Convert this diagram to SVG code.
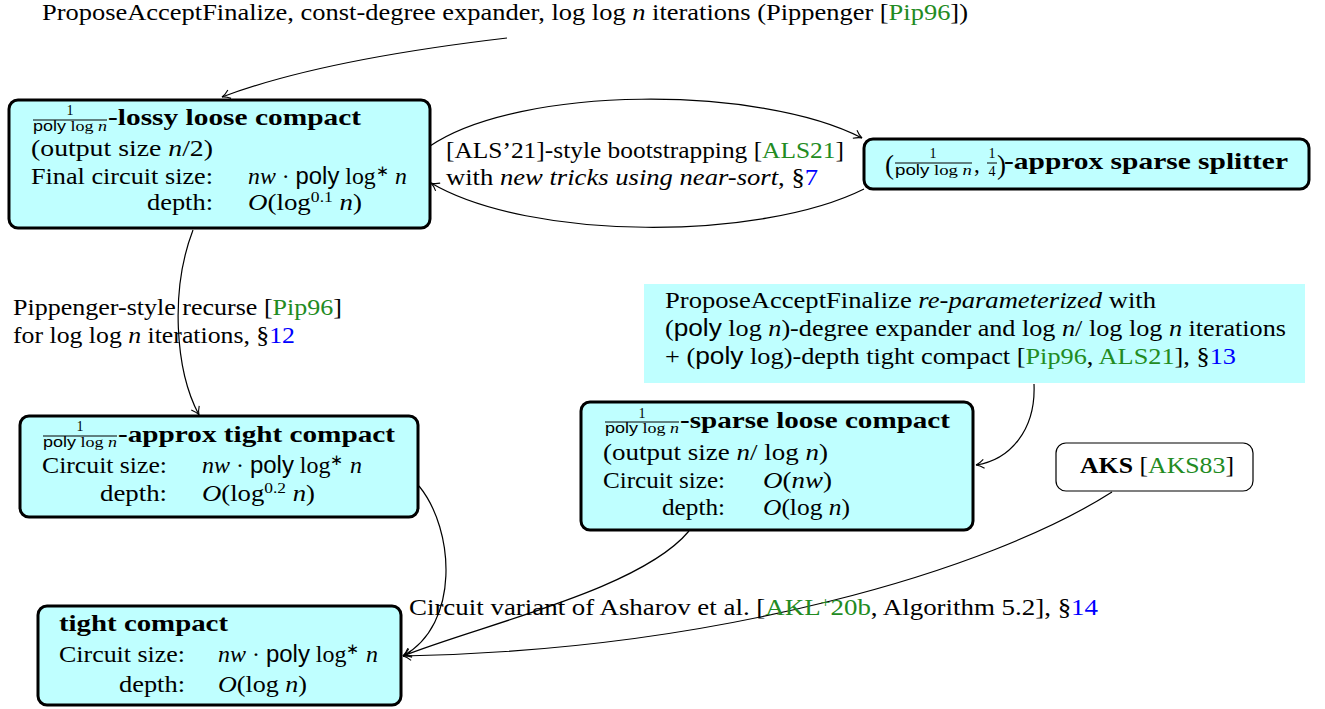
<svg xmlns="http://www.w3.org/2000/svg" width="1325" height="709" viewBox="0 0 1325 709">
<style>
text{font-family:"Liberation Serif","Times New Roman",serif;font-size:23px;fill:#000}
.b{font-weight:bold}
.i{font-style:italic}
.s{font-family:"Liberation Sans",Arial,sans-serif}
.g{fill:#228b22}
.u{fill:#0000ff}
.fr{font-size:14px}
.sup{font-size:15px}
.par{font-size:27px}
.node{fill:#bfffff;stroke:#000;stroke-width:3}
.plain{fill:#fff;stroke:#000;stroke-width:1.2}
.box{fill:#bfffff;stroke:none}
.edge{fill:none;stroke:#000;stroke-width:1.2}
.bar{stroke:#000;stroke-width:1}
</style>
<defs>
<marker id="arr" markerWidth="12" markerHeight="12" refX="0" refY="0" viewBox="-9 -6 12 12" orient="auto" markerUnits="userSpaceOnUse">
<path d="M-8,-4.5 C-5,-2 -2,-0.5 0,0 C-2,0.5 -5,2 -8,4.5" fill="none" stroke="#000" stroke-width="1.1"/>
</marker>
</defs>

<g id="edges">
<path class="edge" d="M507,38 Q320,60 222,97" marker-end="url(#arr)"/>
<path class="edge" d="M430,146 C520,85 760,85 862,138" marker-end="url(#arr)"/>
<path class="edge" d="M864,189 C760,241 530,241 431,183" marker-end="url(#arr)"/>
<path class="edge" d="M193,230 C170,290 175,370 199,415" marker-end="url(#arr)"/>
<path class="edge" d="M1034,384 C1036,430 1010,460 976,465" marker-end="url(#arr)"/>
<path class="edge" d="M419,486 C455,530 460,625 403,656" marker-end="url(#arr)"/>
<path class="edge" d="M689,531 C640,590 480,625 403,656" marker-end="url(#arr)"/>
<path class="edge" d="M1112,492 C990,570 720,650 403,656" marker-end="url(#arr)"/>
</g>

<g id="labels">
<text x="42" y="20" textLength="926" lengthAdjust="spacingAndGlyphs">ProposeAcceptFinalize, const-degree expander, log log <tspan class="i">n</tspan> iterations (Pippenger [<tspan class="g">Pip96</tspan>])</text>
<text x="446" y="158" textLength="398" lengthAdjust="spacingAndGlyphs">[ALS’21]-style bootstrapping [<tspan class="g">ALS21</tspan>]</text>
<text x="446" y="185" textLength="372" lengthAdjust="spacingAndGlyphs">with <tspan class="i">new tricks using near-sort</tspan>, §<tspan class="u">7</tspan></text>
<text x="13" y="315" textLength="329" lengthAdjust="spacingAndGlyphs">Pippenger-style recurse [<tspan class="g">Pip96</tspan>]</text>
<text x="13" y="343" textLength="282" lengthAdjust="spacingAndGlyphs">for log log <tspan class="i">n</tspan> iterations, §<tspan class="u">12</tspan></text>
<text x="409" y="615" textLength="689" lengthAdjust="spacingAndGlyphs">Circuit variant of Asharov et al. [<tspan class="g">AKL</tspan><tspan class="g sup" dy="-8">+</tspan><tspan class="g" dy="8">20b</tspan>, Algorithm 5.2], §<tspan class="u">14</tspan></text>
</g>

<g id="nodeA">
<rect class="node" x="9" y="100" width="421" height="128" rx="9"/>
<text class="fr" x="70" y="115" text-anchor="middle">1</text>
<line class="bar" x1="33" y1="120" x2="107" y2="120"/>
<text class="fr" x="33" y="131" textLength="74" lengthAdjust="spacingAndGlyphs"><tspan class="s">poly</tspan> log <tspan class="i">n</tspan></text>
<text class="b" x="108" y="125" textLength="253" lengthAdjust="spacingAndGlyphs">-lossy loose compact</text>
<text x="31" y="156" textLength="182" lengthAdjust="spacingAndGlyphs">(output size <tspan class="i">n</tspan>/2)</text>
<text x="31" y="184" textLength="182" lengthAdjust="spacingAndGlyphs">Final circuit size:</text>
<text x="248" y="184" textLength="159" lengthAdjust="spacingAndGlyphs"><tspan class="i">nw</tspan> · <tspan class="s">poly</tspan> log<tspan class="sup" dy="-8">∗</tspan><tspan dy="8"> </tspan><tspan class="i">n</tspan></text>
<text x="147" y="210" textLength="66" lengthAdjust="spacingAndGlyphs">depth:</text>
<text x="248" y="210" textLength="114" lengthAdjust="spacingAndGlyphs"><tspan class="i">O</tspan>(log<tspan class="sup" dy="-8">0.1</tspan><tspan dy="8"> </tspan><tspan class="i">n</tspan>)</text>
</g>

<g id="nodeB">
<rect class="node" x="864" y="139" width="445" height="50" rx="9"/>
<text class="par" x="885" y="174">(</text>
<text class="fr" x="933" y="158" text-anchor="middle">1</text>
<line class="bar" x1="895" y1="163" x2="972" y2="163"/>
<text class="fr" x="895" y="175" textLength="77" lengthAdjust="spacingAndGlyphs"><tspan class="s">poly</tspan> log <tspan class="i">n</tspan></text>
<text x="974" y="172">,</text>
<text class="fr" x="992" y="158" text-anchor="middle">1</text>
<line class="bar" x1="987" y1="163" x2="997" y2="163"/>
<text class="fr" x="992" y="176" text-anchor="middle">4</text>
<text class="par" x="997" y="174">)</text>
<text class="b" x="1004" y="169" textLength="284" lengthAdjust="spacingAndGlyphs">-approx sparse splitter</text>
</g>

<g id="nodeC">
<rect class="node" x="20" y="416" width="398" height="101" rx="9"/>
<text class="fr" x="80" y="431" text-anchor="middle">1</text>
<line class="bar" x1="43" y1="436" x2="117" y2="436"/>
<text class="fr" x="43" y="447" textLength="74" lengthAdjust="spacingAndGlyphs"><tspan class="s">poly</tspan> log <tspan class="i">n</tspan></text>
<text class="b" x="118" y="442" textLength="277" lengthAdjust="spacingAndGlyphs">-approx tight compact</text>
<text x="42" y="473" textLength="125" lengthAdjust="spacingAndGlyphs">Circuit size:</text>
<text x="202" y="473" textLength="160" lengthAdjust="spacingAndGlyphs"><tspan class="i">nw</tspan> · <tspan class="s">poly</tspan> log<tspan class="sup" dy="-8">∗</tspan><tspan dy="8"> </tspan><tspan class="i">n</tspan></text>
<text x="100" y="501" textLength="67" lengthAdjust="spacingAndGlyphs">depth:</text>
<text x="202" y="501" textLength="113" lengthAdjust="spacingAndGlyphs"><tspan class="i">O</tspan>(log<tspan class="sup" dy="-8">0.2</tspan><tspan dy="8"> </tspan><tspan class="i">n</tspan>)</text>
</g>

<g id="pafBox">
<rect class="box" x="644" y="284" width="661" height="99"/>
<text x="665" y="308" textLength="491" lengthAdjust="spacingAndGlyphs">ProposeAcceptFinalize <tspan class="i">re-parameterized</tspan> with</text>
<text x="665" y="336" textLength="621" lengthAdjust="spacingAndGlyphs">(<tspan class="s">poly</tspan> log <tspan class="i">n</tspan>)-degree expander and log <tspan class="i">n</tspan>/ log log <tspan class="i">n</tspan> iterations</text>
<text x="665" y="364" textLength="571" lengthAdjust="spacingAndGlyphs">+ (<tspan class="s">poly</tspan> log)-depth tight compact [<tspan class="g">Pip96</tspan>, <tspan class="g">ALS21</tspan>], §<tspan class="u">13</tspan></text>
</g>

<g id="nodeD">
<rect class="node" x="581" y="402" width="392" height="128" rx="9"/>
<text class="fr" x="642" y="418" text-anchor="middle">1</text>
<line class="bar" x1="605" y1="422" x2="679" y2="422"/>
<text class="fr" x="605" y="433" textLength="74" lengthAdjust="spacingAndGlyphs"><tspan class="s">poly</tspan> log <tspan class="i">n</tspan></text>
<text class="b" x="680" y="428" textLength="270" lengthAdjust="spacingAndGlyphs">-sparse loose compact</text>
<text x="603" y="460" textLength="225" lengthAdjust="spacingAndGlyphs">(output size <tspan class="i">n</tspan>/ log <tspan class="i">n</tspan>)</text>
<text x="603" y="488" textLength="122" lengthAdjust="spacingAndGlyphs">Circuit size:</text>
<text x="763" y="488" textLength="69" lengthAdjust="spacingAndGlyphs"><tspan class="i">O</tspan>(<tspan class="i">nw</tspan>)</text>
<text x="662" y="515" textLength="63" lengthAdjust="spacingAndGlyphs">depth:</text>
<text x="763" y="515" textLength="87" lengthAdjust="spacingAndGlyphs"><tspan class="i">O</tspan>(log <tspan class="i">n</tspan>)</text>
</g>

<g id="nodeAKS">
<rect class="plain" x="1056" y="443" width="197" height="48" rx="10"/>
<text x="1080" y="473" textLength="154" lengthAdjust="spacingAndGlyphs"><tspan class="b">AKS</tspan> [<tspan class="g">AKS83</tspan>]</text>
</g>

<g id="nodeE">
<rect class="node" x="38" y="606" width="363" height="99" rx="9"/>
<text class="b" x="59" y="631" textLength="169" lengthAdjust="spacingAndGlyphs">tight compact</text>
<text x="59" y="662" textLength="126" lengthAdjust="spacingAndGlyphs">Circuit size:</text>
<text x="218" y="662" textLength="160" lengthAdjust="spacingAndGlyphs"><tspan class="i">nw</tspan> · <tspan class="s">poly</tspan> log<tspan class="sup" dy="-8">∗</tspan><tspan dy="8"> </tspan><tspan class="i">n</tspan></text>
<text x="119" y="692" textLength="66" lengthAdjust="spacingAndGlyphs">depth:</text>
<text x="218" y="692" textLength="89" lengthAdjust="spacingAndGlyphs"><tspan class="i">O</tspan>(log <tspan class="i">n</tspan>)</text>
</g>
</svg>
